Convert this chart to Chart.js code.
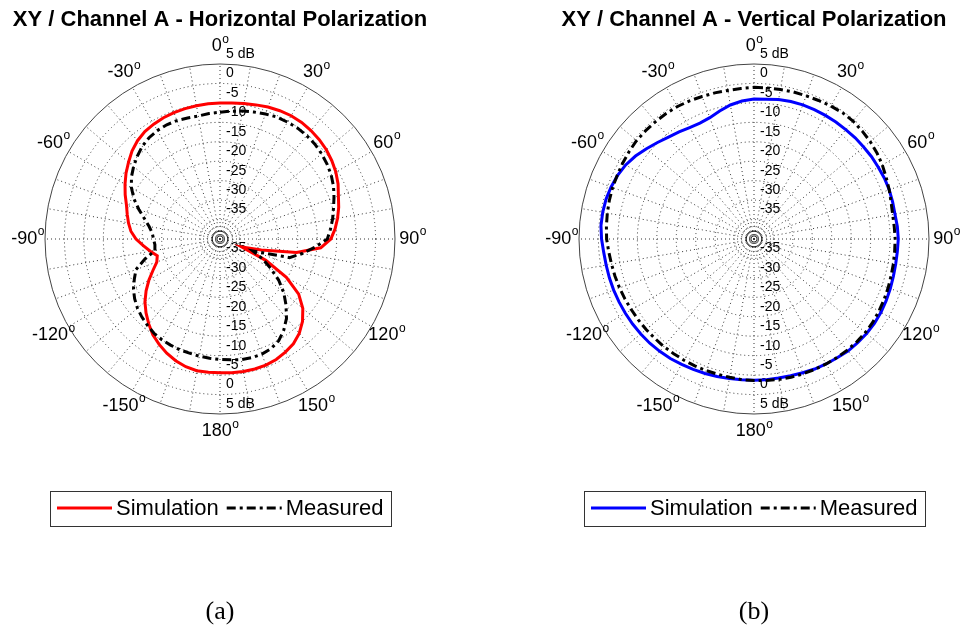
<!DOCTYPE html>
<html>
<head>
<meta charset="utf-8">
<script src="https://cdn.jsdelivr.net/npm/chart.js@4.4.1/dist/chart.umd.min.js"></script>
<style>
  html, body { margin: 0; padding: 0; background: #fff; overflow: hidden; width: 965px; height: 635px; }
  canvas { position: absolute; top: 0; }
  #chartH { left: 0; }
  #chartV { left: 525px; }
  .caption { position: absolute; top: 596px; width: 80px; text-align: center;
             font-family: "Liberation Serif", "DejaVu Serif", serif; font-size: 26px; line-height: 30px; color: #000; }
</style>
</head>
<body>
<canvas id="chartH" width="440" height="635"></canvas>
<canvas id="chartV" width="440" height="635"></canvas>
<div class="caption" style="left:180px">(a)</div>
<div class="caption" style="left:714px">(b)</div>
<script>
// Azimuth of every sample, degrees clockwise from the top
const angles = [
  0, 5, 10, 15, 20, 25, 30, 35, 40, 45, 50, 55,
  60, 65, 70, 75, 80, 85, 90, 95, 100, 105, 110, 115,
  120, 125, 130, 135, 140, 145, 150, 155, 160, 165, 170, 175,
  180, 185, 190, 195, 200, 205, 210, 215, 220, 225, 230, 235,
  240, 245, 250, 255, 260, 265, 270, 275, 280, 285, 290, 295,
  300, 305, 310, 315, 320, 325, 330, 335, 340, 345, 350, 355
];

// Horizontal polarization, gain in dB
const horizSim = [
  -5.0, -4.9, -4.6, -4.3, -3.9, -3.6, -3.4, -3.4, -3.6, -3.9, -4.3, -4.9,
  -5.6, -6.5, -7.6, -8.4, -9.3, -10.3, -11.5, -14.0, -20.0, -29.0, -34.0, -27.0,
  -20.3, -15.3, -12.2, -10.0, -8.3, -7.1, -6.4, -5.8, -5.5, -5.4, -5.4, -5.5,
  -5.6, -5.6, -5.6, -6.0, -6.7, -7.6, -8.7, -9.9, -11.5, -13.1, -14.8, -16.8,
  -18.9, -21.0, -22.7, -23.3, -21.8, -20.2, -18.4, -17.0, -16.1, -15.3, -14.4, -13.1,
  -11.8, -10.5, -9.3, -8.0, -7.0, -6.3, -5.9, -5.6, -5.4, -5.3, -5.2, -5.1
];
const horizMeas = [
  -7.4, -7.0, -6.6, -6.2, -5.8, -5.4, -5.3, -5.2, -5.3, -5.5, -5.9, -6.4,
  -7.0, -7.8, -8.8, -9.8, -10.6, -11.5, -12.4, -15.5, -18.5, -21.5, -31.0, -28.0,
  -25.0, -21.6, -18.6, -16.0, -13.4, -11.4, -9.8, -8.9, -8.5, -8.4, -8.5, -8.8,
  -9.0, -9.2, -9.4, -9.6, -9.7, -9.9, -10.1, -10.4, -11.0, -11.6, -12.3, -13.2,
  -14.3, -15.7, -17.0, -20.0, -23.0, -23.2, -22.9, -22.5, -21.5, -19.9, -17.8, -15.6,
  -13.7, -12.2, -11.0, -9.9, -8.9, -8.2, -7.8, -7.6, -7.6, -7.8, -7.9, -7.6
];

// Vertical polarization, gain in dB
const vertSim = [
  -4.0, -3.9, -3.6, -3.4, -3.3, -3.3, -3.3, -3.3, -3.3, -3.2, -3.2, -3.1,
  -3.1, -3.0, -3.0, -3.1, -3.2, -3.0, -2.9, -3.0, -3.0, -2.9, -2.7, -2.5,
  -2.3, -2.2, -2.2, -2.3, -2.4, -2.7, -2.9, -3.1, -3.4, -3.6, -3.7, -3.7,
  -3.7, -3.7, -3.6, -3.4, -3.2, -3.0, -2.8, -2.5, -2.3, -2.1, -2.0, -1.9,
  -1.8, -1.7, -1.6, -1.5, -1.4, -1.2, -0.8, -0.5, -0.5, -0.6, -0.9, -1.3,
  -1.9, -2.8, -3.9, -4.9, -5.8, -6.4, -6.9, -7.1, -6.8, -5.9, -5.0, -4.4
];
const vertMeas = [
  -1.0, -1.0, -0.95, -0.85, -0.8, -0.7, -0.5, -0.35, -0.4, -0.7, -1.0, -1.4,
  -1.9, -2.5, -3.0, -3.5, -3.8, -3.8, -3.7, -3.7, -3.6, -3.5, -3.3, -3.1,
  -2.9, -2.7, -2.6, -2.6, -2.7, -2.8, -2.9, -3.0, -3.1, -3.2, -3.3, -3.5,
  -3.6, -3.7, -3.9, -4.0, -4.0, -4.0, -4.0, -4.0, -3.9, -3.9, -3.8, -3.7,
  -3.6, -3.4, -3.2, -3.0, -2.8, -2.5, -2.1, -1.9, -1.7, -1.5, -1.3, -1.2,
  -1.0, -0.8, -0.6, -0.6, -0.6, -0.6, -0.65, -0.8, -1.0, -1.1, -1.2, -1.15
];

// Angular tick marks and their labels
const angleTickPositions = [0, 30, 60, 90, 120, 150, 180, 210, 240, 270, 300, 330];
const angleTickLabels = ['0', '30', '60', '90', '120', '150', '180', '-150', '-120', '-90', '-60', '-30'];

// Radial ticks (dB) that carry a label
const radialTickValues = [0, -5, -10, -15, -20, -25, -30, -35];
const radialOuterLabel = '5 dB';

const SANS = 'Arial, Helvetica, "Liberation Sans", sans-serif';
const GRID = '#333';

// Grid decorations, labels and a boxed legend for the polar plots
const polarDecor = {
  id: 'polarDecor',
  beforeDatasetsDraw(chart) {
    const s = chart.scales.r;
    const ctx = chart.ctx;
    const cx = s.xCenter, cy = s.yCenter;
    ctx.save();
    // small rings around the origin
    const hub = [
      { v: -36.7, dash: [1, 3], color: GRID },
      { v: -38.0, dash: [], color: '#222' },
      { v: -39.2, dash: [], color: '#222' }
    ];
    ctx.lineWidth = 1;
    hub.forEach(h => {
      ctx.setLineDash(h.dash);
      ctx.strokeStyle = h.color;
      ctx.beginPath();
      ctx.arc(cx, cy, s.getDistanceFromCenterForValue(h.v), 0, Math.PI * 2);
      ctx.stroke();
    });
    ctx.setLineDash([]);
    // radial tick labels above and below the origin
    ctx.fillStyle = '#000';
    ctx.font = '14px ' + SANS;
    ctx.textAlign = 'left';
    ctx.textBaseline = 'middle';
    radialTickValues.forEach(v => {
      const d = s.getDistanceFromCenterForValue(v);
      ctx.fillText(String(v), cx + 6, cy - d - 10);
      ctx.fillText(String(v), cx + 6, cy + d - 10);
    });
    const dOut = s.getDistanceFromCenterForValue(s.max);
    ctx.fillText(radialOuterLabel, cx + 6, cy - dOut - 10);
    ctx.fillText(radialOuterLabel, cx + 6, cy + dOut - 10);
    ctx.restore();
  },
  afterDraw(chart) {
    const s = chart.scales.r;
    const ctx = chart.ctx;
    ctx.save();
    // angle labels with a degree mark
    ctx.fillStyle = '#000';
    ctx.textBaseline = 'middle';
    ctx.textAlign = 'left';
    angleTickPositions.forEach((a, i) => {
      const idx = angles.indexOf(a);
      const p = s.getPointPosition(idx, s.drawingArea * 1.1);
      ctx.font = '18px ' + SANS;
      const w1 = ctx.measureText(angleTickLabels[i]).width;
      ctx.font = '12px ' + SANS;
      const w2 = ctx.measureText('o').width;
      const x0 = p.x - (w1 + w2) / 2;
      ctx.font = '18px ' + SANS;
      ctx.fillText(angleTickLabels[i], x0, p.y);
      ctx.font = '12px ' + SANS;
      ctx.fillText('o', x0 + w1 + 0.5, p.y - 7);
    });
    // legend
    const ds = chart.data.datasets;
    ctx.font = '22px ' + SANS;
    const sample = 55, gapText = 4, gapItem = 8, pad = 7, boxH = 35;
    const widths = ds.map(d => ctx.measureText(d.label).width);
    let total = pad * 2 + gapItem * (ds.length - 1);
    widths.forEach(w => { total += sample + gapText + w; });
    const midY = s.yCenter + 269;
    const left = Math.round(s.xCenter - total / 2);
    ctx.strokeStyle = '#333';
    ctx.lineWidth = 1;
    ctx.strokeRect(left + 0.5, Math.round(midY - boxH / 2) + 0.5, Math.round(total), boxH);
    let x = left + pad;
    ds.forEach((d, i) => {
      ctx.strokeStyle = d.borderColor;
      ctx.lineWidth = d.borderWidth;
      ctx.setLineDash(d.borderDash || []);
      ctx.beginPath();
      ctx.moveTo(x, midY);
      ctx.lineTo(x + sample, midY);
      ctx.stroke();
      ctx.setLineDash([]);
      x += sample + gapText;
      ctx.fillStyle = '#000';
      ctx.fillText(d.label, x, midY + 1);
      x += widths[i] + gapItem;
    });
    ctx.restore();
  }
};

function polarChart(id, title, sim, meas, simColor, padLeft, padRight) {
  return new Chart(document.getElementById(id), {
    type: 'radar',
    data: {
      labels: angles,
      datasets: [
        { label: 'Simulation', data: sim, borderColor: simColor, borderWidth: 3,
          fill: false, pointRadius: 0, tension: 0, order: 1 },
        { label: 'Measured', data: meas, borderColor: '#000', borderWidth: 3,
          borderDash: [9, 4, 3, 4], fill: false, pointRadius: 0, tension: 0, order: 0 }
      ]
    },
    options: {
      responsive: false,
      animation: false,
      events: [],
      layout: { padding: { left: padLeft, right: padRight, top: 0, bottom: 221 } },
      plugins: {
        legend: { display: false },
        tooltip: { enabled: false },
        title: {
          display: true, text: title, color: '#000',
          font: { family: SANS, size: 22, weight: 'bold' },
          padding: { top: 7, bottom: 30.6 }
        }
      },
      scales: {
        r: {
          min: -40, max: 5,
          startAngle: 0,
          ticks: { stepSize: 5, display: false },
          pointLabels: { display: false },
          grid: {
            circular: true,
            lineWidth: 1,
            color: c => (c.tick && c.tick.value === 5) ? '#444' : GRID
          },
          border: {
            dash: c => (c.tick && c.tick.value === 5) ? [] : [1, 3]
          },
          angleLines: {
            display: true,
            color: GRID,
            lineWidth: c => (angles[c.index] % 10 === 0) ? 1 : 0,
            borderDash: [1, 3]
          }
        }
      }
    },
    plugins: [polarDecor]
  });
}

// plot area is 420 x 350 so the radius is 175 and the title has room
polarChart('chartH', 'XY / Channel A - Horizontal Polarization', horizSim, horizMeas, '#ff0000', 10, 10);
polarChart('chartV', 'XY / Channel A - Vertical Polarization', vertSim, vertMeas, '#0000ff', 19, 1);
</script>
</body>
</html>
